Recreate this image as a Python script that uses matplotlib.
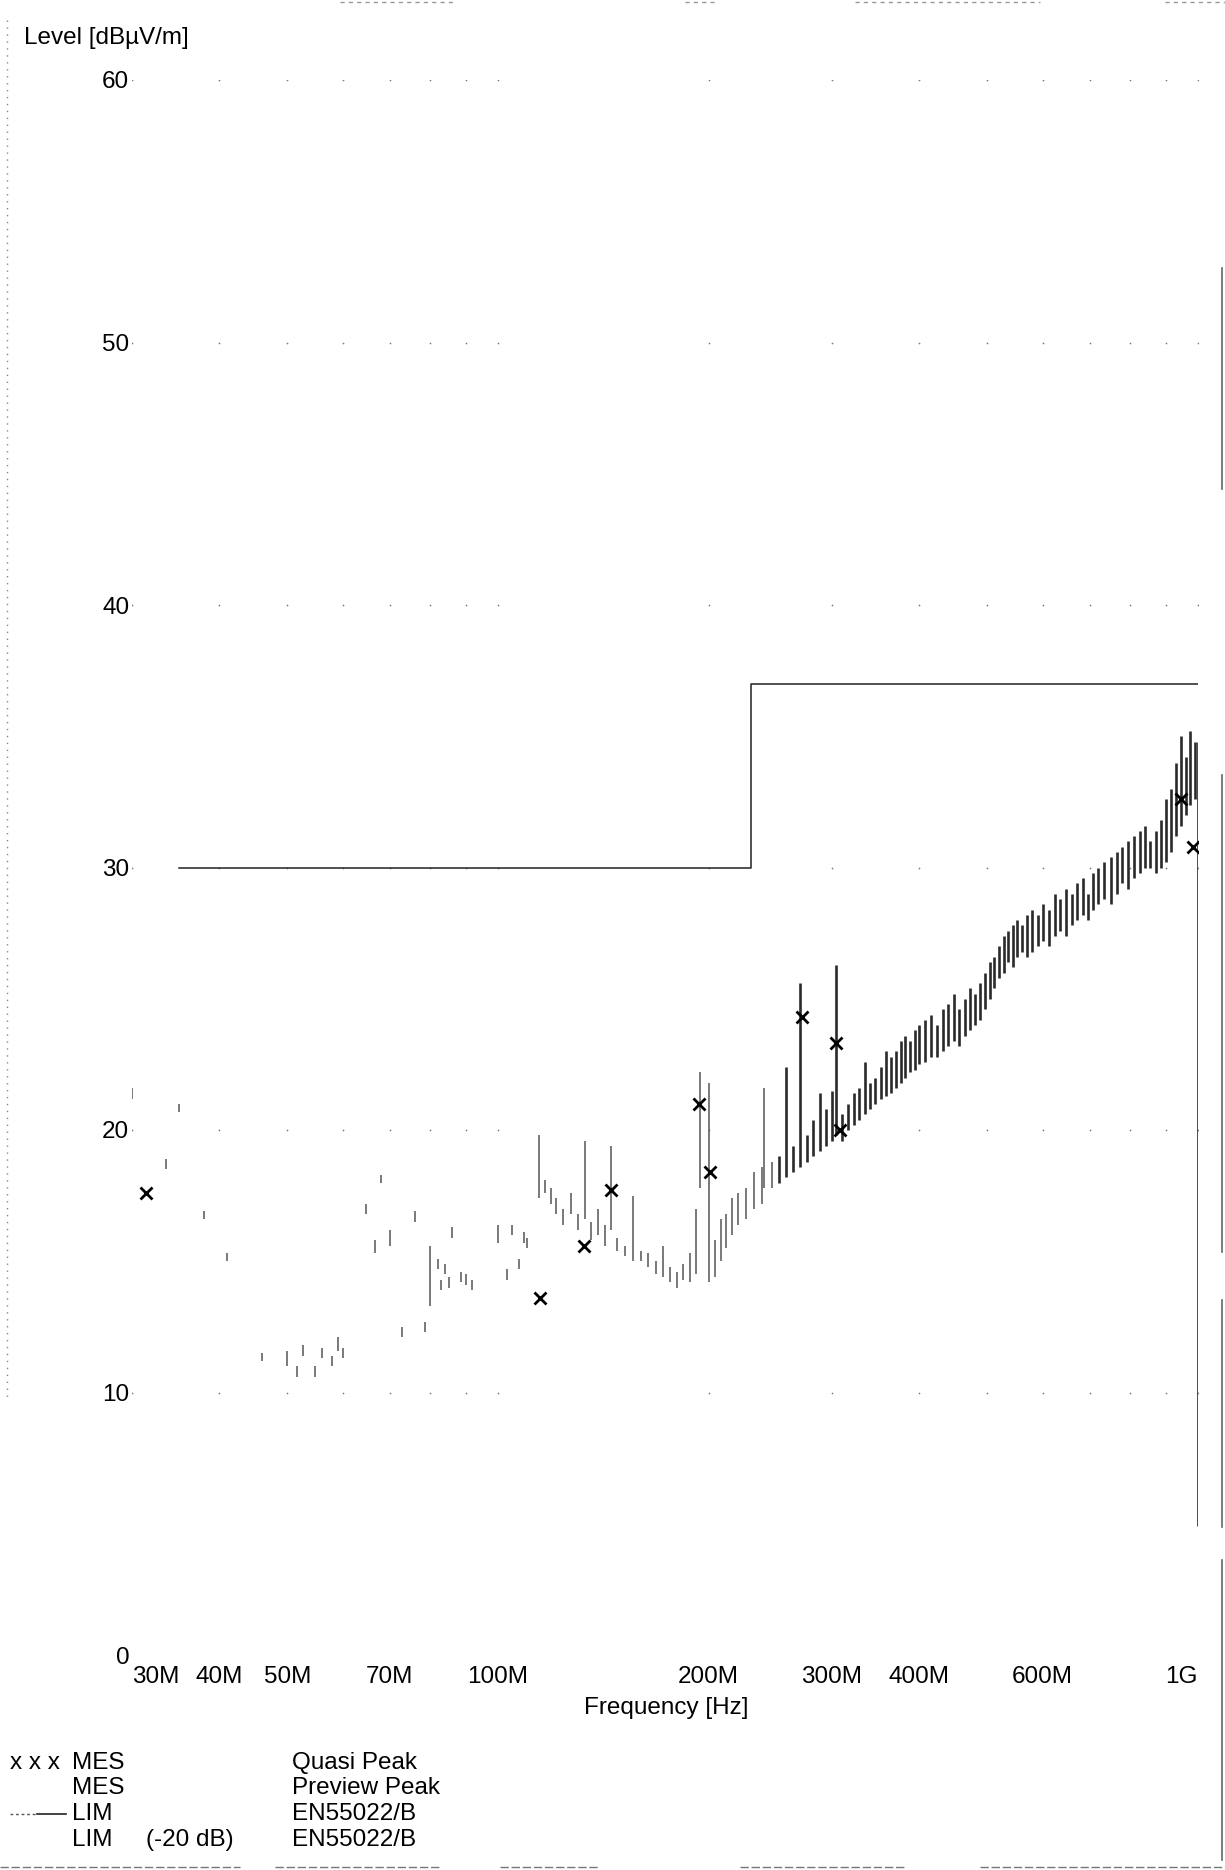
import matplotlib
matplotlib.use("Agg")
import matplotlib.pyplot as plt
from matplotlib.lines import Line2D
import numpy as np

plt.rcParams['font.family'] = ['Liberation Sans', 'DejaVu Sans']

# ---------------- data ----------------
# Preview peak trace: frequency (MHz) with min / max level (dBuV/m) per bin
trace_freq = [30.0, 33.5, 35.0, 38.0, 41.0, 46.0, 50.0, 51.6, 52.7, 54.8, 56.0, 58.0, 59.0, 60.0,
              64.8, 66.7, 68.0, 70.0, 73.0, 76.0, 78.7, 80.0, 82.0, 83.0, 84.0, 85.0, 86.0, 88.5,
              90.0, 91.8, 100.0, 103.0, 104.7, 107.0, 109.0, 110.0, 114.5, 116.7, 119.0, 121.0,
              124.0, 127.0, 130.0, 133.0, 136.0, 139.0, 142.0, 145.0, 148.0, 152.0, 156.0, 160.0,
              164.0, 168.0, 172.0, 176.0, 180.0, 184.0, 188.0, 192.0, 194.5, 200.0, 204.0, 208.0,
              212.0, 216.0, 220.0, 226.0, 232.0, 238.0, 240.0, 246.0, 252.0, 258.0, 264.0, 270.0,
              276.0, 282.0, 288.0, 294.0, 300.0, 304.0, 310.0, 316.0, 322.0, 328.0, 334.0, 340.0,
              346.0, 352.0, 358.0, 364.0, 370.0, 376.0, 382.0, 388.0, 394.0, 400.0, 408.0, 416.0,
              424.0, 432.0, 440.0, 448.0, 456.0, 464.0, 472.0, 480.0, 488.0, 496.0, 504.0, 512.0,
              520.0, 528.0, 536.0, 544.0, 552.0, 560.0, 570.0, 580.0, 590.0, 600.0, 612.0, 624.0,
              636.0, 648.0, 660.0, 672.0, 684.0, 696.0, 708.0, 720.0, 735.0, 750.0, 765.0, 780.0,
              795.0, 810.0, 825.0, 840.0, 855.0, 870.0, 885.0, 900.0, 915.0, 930.0, 945.0, 960.0,
              975.0, 990.0, 1000.0]
trace_lo = [21.2, 18.5, 20.7, 16.6, 15.0, 11.2, 11.0, 10.6, 11.4, 10.6, 11.3, 11.0, 11.6, 11.3,
            16.8, 15.3, 18.0, 15.6, 12.1, 16.5, 12.3, 13.3, 14.7, 13.9, 14.5, 14.0, 15.9, 14.2,
            14.1, 13.9, 15.7, 14.3, 16.0, 14.7, 15.7, 15.5, 17.4, 17.6, 17.2, 16.8,
            16.4, 16.8, 16.2, 16.6, 15.8, 16.0, 15.6, 16.2, 15.4, 15.2, 15.0, 15.0,
            14.8, 14.5, 14.4, 14.2, 14.0, 14.3, 14.2, 14.5, 17.8, 14.2, 14.4, 15.0,
            15.5, 16.0, 16.4, 16.6, 17.0, 17.2, 17.8, 17.8, 18.0, 18.2, 18.4, 18.6,
            18.8, 19.0, 19.2, 19.4, 19.6, 19.8, 19.6, 20.0, 20.2, 20.4, 20.6, 20.8,
            21.0, 21.2, 21.3, 21.4, 21.6, 21.8, 22.0, 22.2, 22.3, 22.5, 22.6, 22.8,
            22.8, 23.0, 23.2, 23.4, 23.2, 23.6, 23.8, 24.0, 24.2, 24.6, 25.0, 25.4,
            25.8, 26.0, 26.4, 26.2, 26.6, 26.8, 26.6, 26.8, 27.0, 27.2, 27.0, 27.4,
            27.6, 27.4, 27.8, 28.0, 28.2, 28.0, 28.4, 28.6, 28.8, 28.6, 29.0, 29.4,
            29.2, 29.6, 29.8, 30.0, 30.0, 29.8, 30.0, 30.2, 30.6, 31.2, 31.6, 32.0,
            32.4, 32.6, 4.9]
trace_hi = [21.6, 18.9, 21.0, 16.9, 15.3, 11.5, 11.6, 11.0, 11.8, 11.0, 11.7, 11.4, 12.1, 11.7,
            17.2, 15.8, 18.3, 16.2, 12.5, 16.9, 12.7, 15.6, 15.1, 14.3, 14.9, 14.4, 16.3, 14.6,
            14.5, 14.3, 16.4, 14.7, 16.4, 15.1, 16.1, 15.9, 19.8, 18.1, 17.8, 17.4,
            17.0, 17.6, 16.8, 19.6, 16.5, 17.0, 16.4, 19.4, 15.9, 15.6, 17.5, 15.4,
            15.3, 15.0, 15.6, 14.8, 14.6, 14.9, 15.3, 17.0, 22.2, 21.8, 15.8, 16.6,
            16.8, 17.4, 17.6, 17.8, 18.4, 18.6, 21.6, 18.8, 19.0, 22.4, 19.4, 25.6,
            19.8, 20.4, 21.4, 20.8, 21.5, 26.3, 20.6, 21.0, 21.4, 21.6, 22.6, 21.8,
            22.0, 22.4, 23.0, 22.8, 23.0, 23.4, 23.6, 23.4, 23.8, 24.0, 24.2, 24.4,
            24.0, 24.6, 24.8, 25.2, 24.6, 25.0, 25.4, 25.2, 25.6, 26.0, 26.4, 26.6,
            27.0, 27.4, 27.6, 27.8, 28.0, 27.8, 28.2, 28.4, 28.2, 28.6, 28.4, 29.0,
            28.8, 29.2, 29.0, 29.4, 29.6, 29.0, 29.8, 30.0, 30.2, 30.4, 30.6, 30.8,
            31.0, 31.2, 31.4, 31.6, 31.0, 31.4, 31.8, 32.6, 33.0, 34.0, 35.0, 34.2,
            35.2, 34.8, 34.8]

# Quasi-peak measurement points
qp_freq = [31.4, 114.9, 132.9, 144.9, 193.7, 200.6, 271.5, 304.2, 307.7, 945.0, 985.0]
qp_level = [17.6, 13.6, 15.6, 17.7, 21.0, 18.4, 24.3, 23.3, 20.0, 32.6, 30.8]

# EN55022 class B limit
lim_freq = [35.0, 230.0, 230.0, 1000.0]
lim_level = [30.0, 30.0, 37.0, 37.0]

# axis ticks
x_ticks = [30, 40, 50, 70, 100, 200, 300, 400, 600, 1000]
x_tick_labels = ['30M', '40M', '50M', '70M', '100M', '200M', '300M', '400M', '600M', '1G']
y_ticks = [0, 10, 20, 30, 40, 50, 60]
grid_x = [30, 40, 50, 60, 70, 80, 90, 100, 200, 300, 400, 500, 600, 700, 800, 900, 1000]
grid_y = [10, 20, 30, 40, 50, 60]

# legend rows
legend_rows = [("x x x", "MES", "", "Quasi Peak"),
               ("", "MES", "", "Preview Peak"),
               ("", "LIM", "", "EN55022/B"),
               ("", "LIM", "(-20 dB)", "EN55022/B")]

# ---------------- figure ----------------
W, H = 1225, 1870
fig = plt.figure(figsize=(W / 100, H / 100), dpi=100)
fig.patch.set_facecolor('white')

ax = fig.add_axes([132 / W, 1 - 1655 / H, 1066 / W, (1655 - 80) / H])
ax.set_xscale('log')
ax.set_xlim(30, 1000)
ax.set_ylim(0, 60)
for s in ax.spines.values():
    s.set_visible(False)

# sparse dotted grid (only intersections survive)
gx, gy = np.meshgrid(grid_x, grid_y)
ax.scatter(gx.ravel(), gy.ravel(), s=1.5, color='#777777', linewidths=0, zorder=1)

# preview peak trace as min/max bars per bin; the dense upper band is drawn heavier
tf = np.asarray(trace_freq)
bar_w = np.where(tf < 250, 1.1, 1.9)
bar_c = ['#555555' if f < 250 else '#2a2a2a' for f in tf]
ax.vlines(tf, trace_lo, trace_hi, colors=bar_c, linewidths=bar_w, zorder=2)

# limit line
ax.plot(lim_freq, lim_level, color='#222222', linewidth=1.1, zorder=3)

# quasi-peak markers
ax.plot(qp_freq, qp_level, linestyle='none', marker='x', markersize=9,
        markeredgewidth=2.0, color='black', zorder=4)

ax.set_xticks(x_ticks)
ax.set_xticklabels(x_tick_labels)
ax.xaxis.set_minor_locator(matplotlib.ticker.NullLocator())
ax.set_yticks(y_ticks)
ax.tick_params(axis='both', length=0, labelsize=17.5, colors='black')
ax.tick_params(axis='x', pad=8)
ax.tick_params(axis='y', pad=2)
xl = ax.get_xticklabels()
xl[0].set_horizontalalignment('left')
xl[-1].set_horizontalalignment('right')

# axis titles
fig.text(24 / W, 1 - 38 / H, 'Level [dBµV/m]', fontsize=17.5, ha='left', va='center')
fig.text(666 / W, 1 - 1708 / H, 'Frequency [Hz]', fontsize=17.5, ha='center', va='center')

# legend block
row_y = [1763, 1788, 1814, 1840]
for (sym, kind, note, desc), yy in zip(legend_rows, row_y):
    yf = 1 - yy / H
    if sym:
        fig.text(10 / W, yf, sym, fontsize=17.5, ha='left', va='center')
    fig.text(72 / W, yf, kind, fontsize=17.5, ha='left', va='center')
    if note:
        fig.text(146 / W, yf, note, fontsize=17.5, ha='left', va='center')
    fig.text(292 / W, yf, desc, fontsize=17.5, ha='left', va='center')
ly = 1 - row_y[2] / H
fig.add_artist(Line2D([10 / W, 37 / W], [ly, ly], color='#555555', lw=1.0, linestyle=(0, (2, 2))))
fig.add_artist(Line2D([37 / W, 66 / W], [ly, ly], color='#222222', lw=1.2))

# page border remnants
fig.add_artist(Line2D([7 / W, 7 / W], [1 - 20 / H, 1 - 1400 / H], color='#888888',
                      lw=1.0, linestyle=(0, (1, 4))))
for y0, y1 in [(268, 489), (775, 1252), (1300, 1527), (1560, 1860)]:
    fig.add_artist(Line2D([1222 / W, 1222 / W], [1 - y0 / H, 1 - y1 / H],
                          color='#666666', lw=1.2))
for x0, x1 in [(0, 240), (275, 440), (500, 600), (740, 905), (980, 1225)]:
    fig.add_artist(Line2D([x0 / W, x1 / W], [1 - 1867 / H, 1 - 1867 / H],
                          color='#777777', lw=1.0, linestyle=(0, (6, 2))))
for x0, x1 in [(340, 455), (685, 715), (855, 1040), (1165, 1225)]:
    fig.add_artist(Line2D([x0 / W, x1 / W], [1 - 2 / H, 1 - 2 / H],
                          color='#999999', lw=1.0, linestyle=(0, (3, 3))))

fig.savefig('out.png', dpi=100, facecolor='white')
